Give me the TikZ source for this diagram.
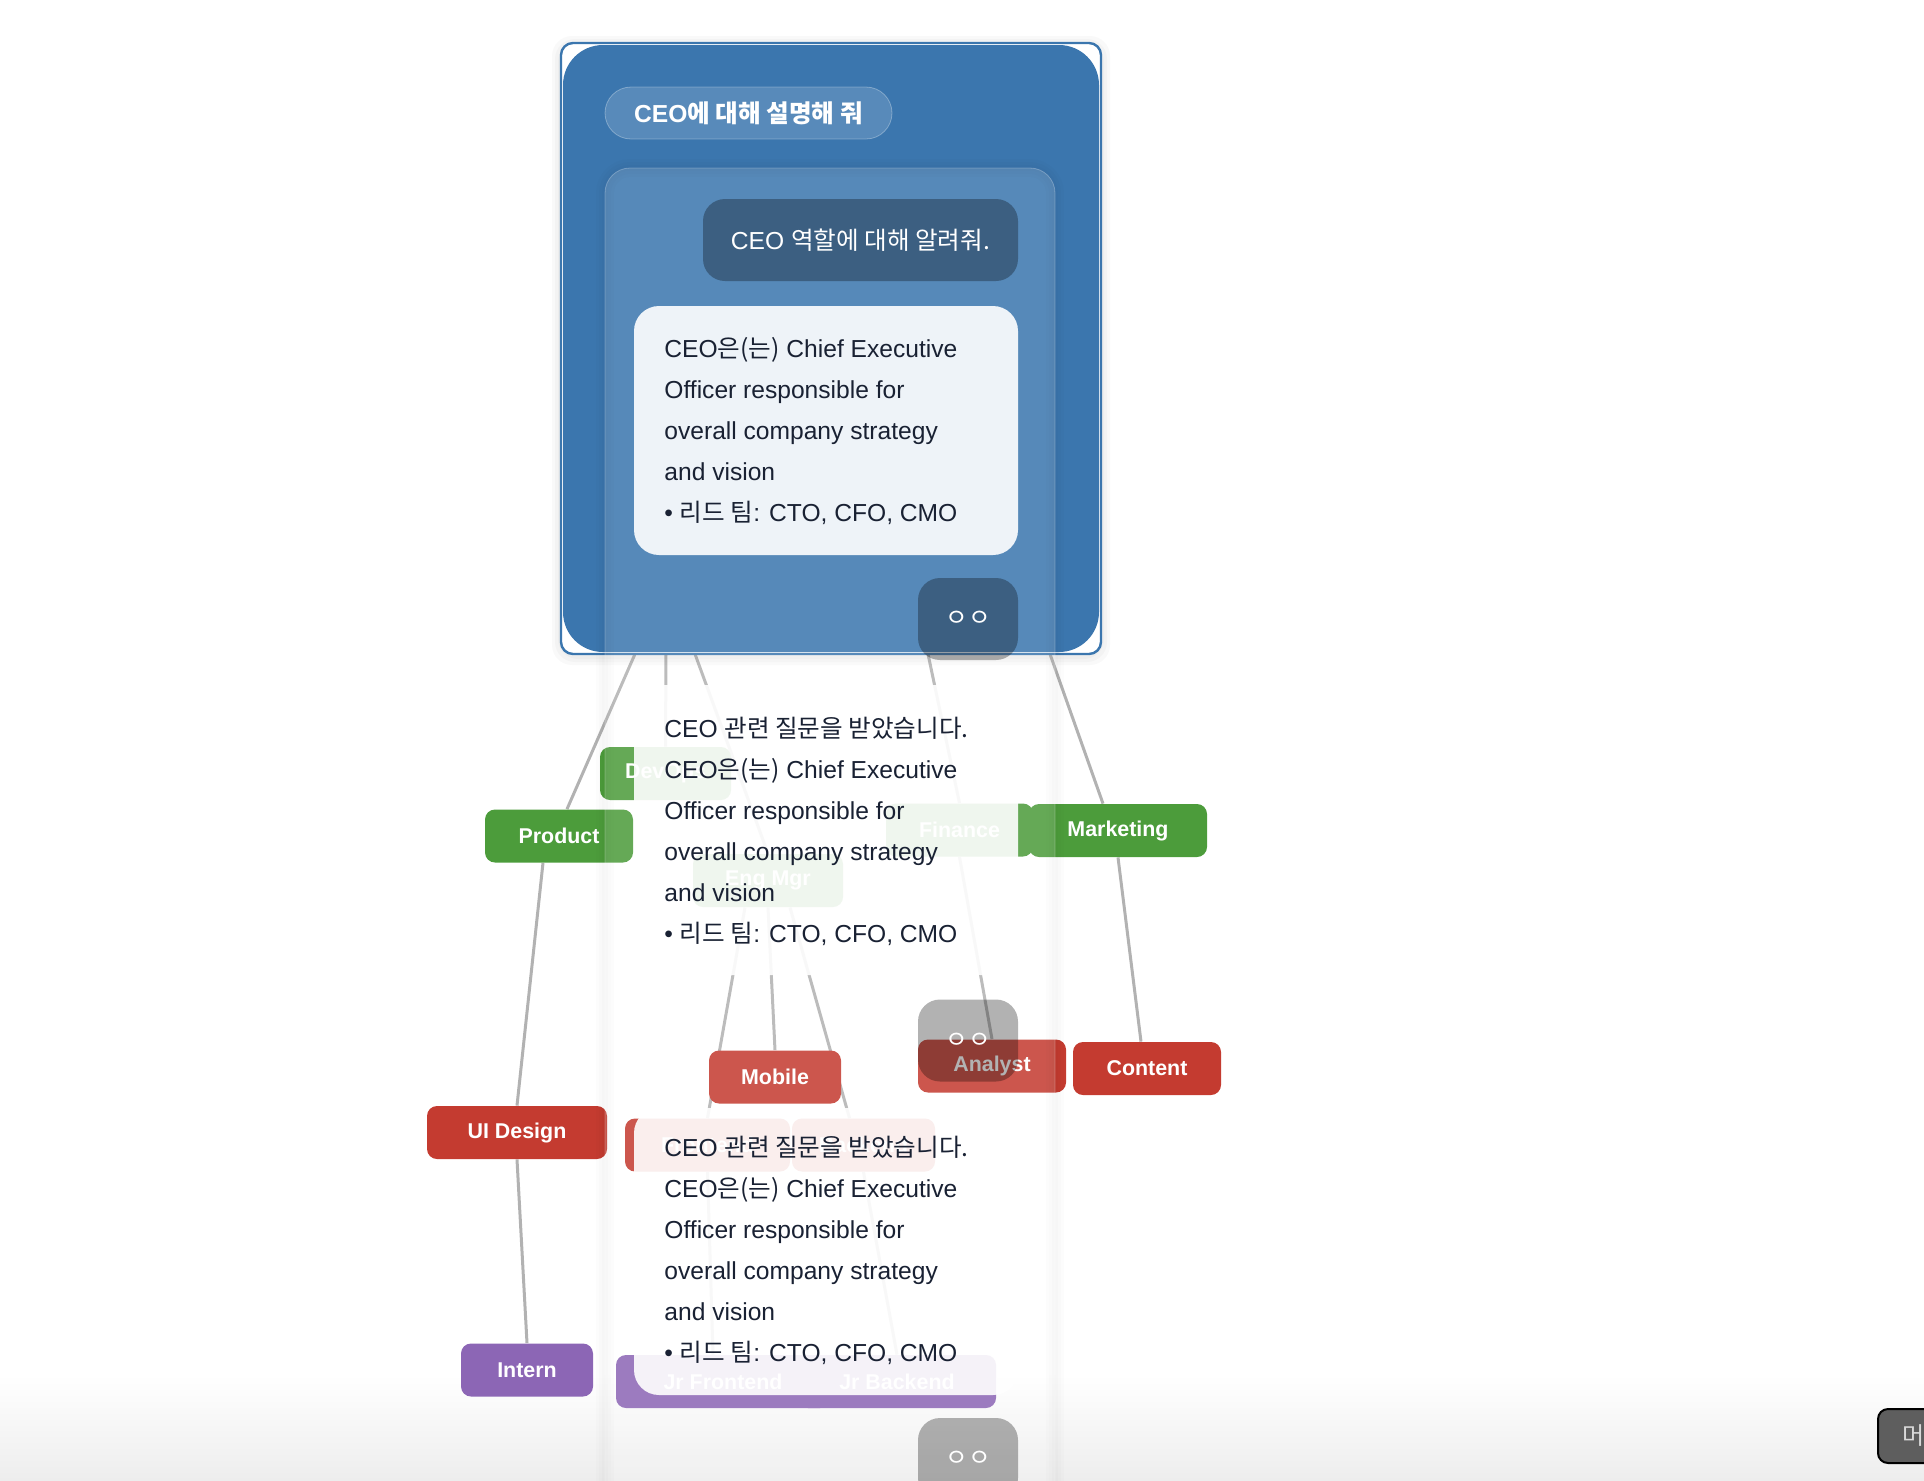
\documentclass[tikz,border=0pt]{standalone}
\usepackage{fontspec}
\setmainfont{Liberation Sans}
\newfontfamily\kr{Noto Sans CJK KR}
\usetikzlibrary{positioning,backgrounds}
\definecolor{boxblue}{rgb}{0.231,0.463,0.682}
\definecolor{green1}{rgb}{0.30,0.61,0.23}
\definecolor{red1}{rgb}{0.77,0.23,0.19}
\definecolor{purple1}{rgb}{0.55,0.40,0.71}
\definecolor{line1}{rgb}{0.70,0.70,0.70}
\definecolor{ink}{rgb}{0.10,0.13,0.20}
\definecolor{btngray}{rgb}{0.37,0.37,0.37}
\newcommand{\bodyfont}{\fontsize{12.3}{20.5}\selectfont}
\newcommand{\ceoinfo}{CEO{\kr 은(는)} Chief Executive\\Officer responsible for\\overall company strategy\\and vision\\• {\kr 리드 팀}: CTO, CFO, CMO}
\tikzset{
  dept/.style={rounded corners=5pt, text=white, font=\fontsize{10.7}{12}\selectfont\bfseries, minimum height=26.5pt, inner sep=0pt},
  link/.style={line1, line width=1.5pt},
  bubble/.style={fill=white, fill opacity=0.9, text opacity=1, rounded corners=12.5pt, inner sep=0pt, minimum width=192pt},
  dark/.style={fill=black, fill opacity=0.3, text opacity=1, text=white, rounded corners=11pt, inner sep=0pt},
  body/.style={ink, font=\bodyfont, align=left, inner sep=0pt, anchor=base west},
}
\begin{document}
\begin{tikzpicture}[x=0.5pt, y=-0.5pt]
\useasboundingbox (0,0) rectangle (1924,1480);
% bottom fade
\shade[top color=white, bottom color=black!7] (0,1375) rectangle (1924,1480);

% departments
\node[dept, fill=green1, minimum width=74pt] (product) at (559,836) {Product};
\node[dept, fill=green1, minimum width=65.5pt] (devops) at (665.5,773.5) {DevOps};
\node[dept, fill=green1, minimum width=75pt] (engmgr) at (768,880.5) {Eng Mgr};
\node[dept, fill=green1, minimum width=73.5pt] (finance) at (959.5,830) {Finance};
\node[dept, fill=green1, minimum width=89pt] (marketing) at (1118,830.5) {Marketing};
\node[dept, fill=red1, minimum width=66pt] (mobile) at (775,1077) {Mobile};
\node[dept, fill=red1, minimum width=74pt] (analyst) at (992,1066) {Analyst};
\node[dept, fill=red1, minimum width=74pt] (content) at (1147,1068.5) {Content};
\node[dept, fill=red1, minimum width=90pt] (uidesign) at (517,1132.5) {UI Design};
\node[dept, fill=red1, minimum width=82.5pt] (frontend) at (707.5,1145) {Frontend};
\node[dept, fill=red1, minimum width=71.5pt] (backend) at (863.5,1145) {Backend};
\node[dept, fill=purple1, minimum width=66pt] (intern) at (527,1370) {Intern};
\node[dept, fill=purple1, minimum width=107pt] (jrfront) at (723,1381.5) {Jr Frontend};
\node[dept, fill=purple1, minimum width=99pt] (jrback) at (897,1381.5) {Jr Backend};

% connectors, behind the nodes
\coordinate (s1) at (635,654);
\coordinate (s2) at (666,654);
\coordinate (s3) at (695,654);
\coordinate (s4) at (928,654);
\coordinate (s5) at (1050,654);
\begin{pgfonlayer}{background}
\draw[link] (s1) -- ([xshift=4pt]product.north);
\draw[link] (s2) -- (devops.north);
\draw[link] (s3) -- (engmgr.north);
\draw[link] (s4) -- (finance.north);
\draw[link] (s5) -- ([xshift=-7.5pt]marketing.north);
\draw[link] ([xshift=-8pt]product.south) -- (uidesign.north);
\draw[link] (uidesign.south) -- (intern.north);
\draw[link] ([xshift=-11.5pt]engmgr.south) -- (frontend.north);
\draw[link] (engmgr.south) -- (mobile.north);
\draw[link] ([xshift=11pt]engmgr.south) -- ([xshift=-7pt]backend.north);
\draw[link] (finance.south) -- (analyst.north);
\draw[link] (marketing.south) -- ([xshift=-3pt]content.north);
\draw[link] (frontend.south) -- ([xshift=-5pt]jrfront.north);
\draw[link] (backend.south) -- (jrback.north);
\end{pgfonlayer}

% CEO card
\foreach \d in {3,6,9}
{
\fill[black, opacity=0.025, rounded corners=10pt] (561-\d,43-\d+2) rectangle (1101+\d,654+\d+2);
}
\node[draw=boxblue, line width=1.2pt, fill=white, rounded corners=6pt, minimum width=270pt, minimum height=305.5pt, inner sep=0pt] (ceo) at (831,348.5) {};
\fill[boxblue, rounded corners=20pt] (563,45) rectangle (1099,652);
\node[fill=white, fill opacity=0.15, draw=white, draw opacity=0.3, text opacity=1, text=white, rounded corners=13pt, minimum width=143.5pt, minimum height=26pt, inner sep=0pt, font=\fontsize{12.3}{14}\selectfont\bfseries] (ask) at (748.5,113) {CEO{\kr\bfseries 에 대해 설명해 줘}};

% chat column
\foreach \d in {3,6,9}
{
\draw[black, opacity=0.012, line width=\d pt, rounded corners=12.5pt] (605,168) rectangle (1055,1560);
}
\draw[white, fill=white, fill opacity=0.14, draw opacity=0.25, rounded corners=12.5pt] (605,168) rectangle (1055,1560);

\node[dark, minimum width=157.5pt, minimum height=41pt, font=\fontsize{12.3}{14}\selectfont] (q1) at (860.5,240) {CEO {\kr 역할에 대해 알려줘.}};
\node[bubble, minimum height=124.5pt] (a1) at (826,430.5) {};
\node[body] (t1) at (664,521) {\ceoinfo};
\node[bubble, minimum height=145pt] (a2) at (826,830) {};
\node[body] (t2) at (664,942) {CEO {\kr 관련 질문을 받았습니다.}\\\ceoinfo};
\node[bubble, minimum height=143.5pt] (a3) at (826,1251.5) {};
\node[body] (t3) at (664,1361) {CEO {\kr 관련 질문을 받았습니다.}\\\ceoinfo};
\foreach \n/\y in {1/619, 2/1040.5, 3/1459}
{
\node[dark, minimum width=50pt, minimum height=41pt, font=\fontsize{12.3}{14}\selectfont] (dots\n) at (968,\y) {{\kr ㅇㅇ}};
}

% menu button
\node[fill=btngray, draw=black, line width=1pt, rounded corners=5pt, minimum width=36pt, minimum height=27pt, inner sep=0pt, text=white!85!black, font=\fontsize{12}{14}\selectfont] (menu) at (1914,1436) {{\kr 머}};
\end{tikzpicture}
\end{document}
